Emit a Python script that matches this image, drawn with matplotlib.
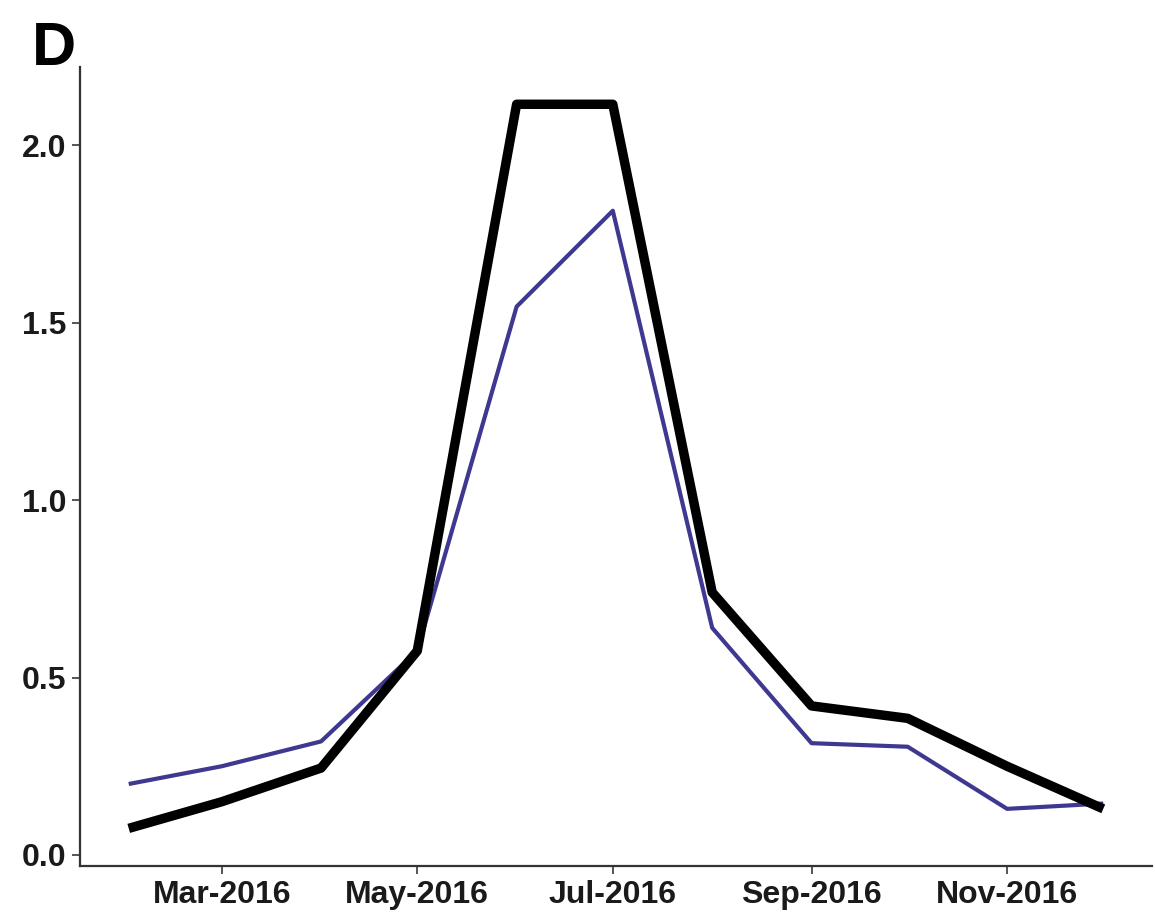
import matplotlib
matplotlib.use("Agg")
import matplotlib.pyplot as plt
import pandas as pd

months = pd.date_range("2016-02-01", "2016-12-01", freq="MS")
series_black = [0.075, 0.150, 0.245, 0.575, 2.115, 2.115, 0.740, 0.420, 0.385, 0.250, 0.130]
series_purple = [0.200, 0.250, 0.320, 0.575, 1.545, 1.815, 0.640, 0.315, 0.305, 0.130, 0.145]
y_ticks = [0.0, 0.5, 1.0, 1.5, 2.0]
x_ticks = pd.to_datetime(["2016-03-01", "2016-05-01", "2016-07-01", "2016-09-01", "2016-11-01"])
x_labels = ["Mar-2016", "May-2016", "Jul-2016", "Sep-2016", "Nov-2016"]

plt.rcParams["font.family"] = ["Liberation Sans", "DejaVu Sans"]
plt.rcParams["font.weight"] = "bold"

fig = plt.figure(figsize=(11.55, 9.13), dpi=100)
ax = fig.add_axes([80 / 1155, 47 / 913, 1072 / 1155, (866 - 67) / 913])

ax.plot(months, series_purple, color="#3f3890", lw=3.0,
        solid_joinstyle="round", solid_capstyle="butt")
ax.plot(months, series_black, color="black", lw=6.8,
        solid_joinstyle="round", solid_capstyle="butt")

span = months[-1] - months[0]
ax.set_xlim(months[0] - span * 0.05, months[-1] + span * 0.05)
ax.set_ylim(-0.031, 2.22)

ax.set_xticks(x_ticks)
ax.set_xticklabels(x_labels)
ax.set_yticks(y_ticks)
ax.set_yticklabels([f"{v:.1f}" for v in y_ticks])

for s in ["top", "right"]:
    ax.spines[s].set_visible(False)
for s in ["left", "bottom"]:
    ax.spines[s].set_color("#333333")
    ax.spines[s].set_linewidth(1.6)
ax.tick_params(axis="both", length=6, width=1.4, color="#555555",
               labelsize=23, labelcolor="#1a1a1a", pad=4)
for lab in ax.get_xticklabels() + ax.get_yticklabels():
    lab.set_fontweight("bold")

fig.text(32 / 1155, 1 - 65 / 913, "D", fontsize=44, fontweight="bold",
         ha="left", va="baseline")

fig.savefig("out.png", dpi=100)
